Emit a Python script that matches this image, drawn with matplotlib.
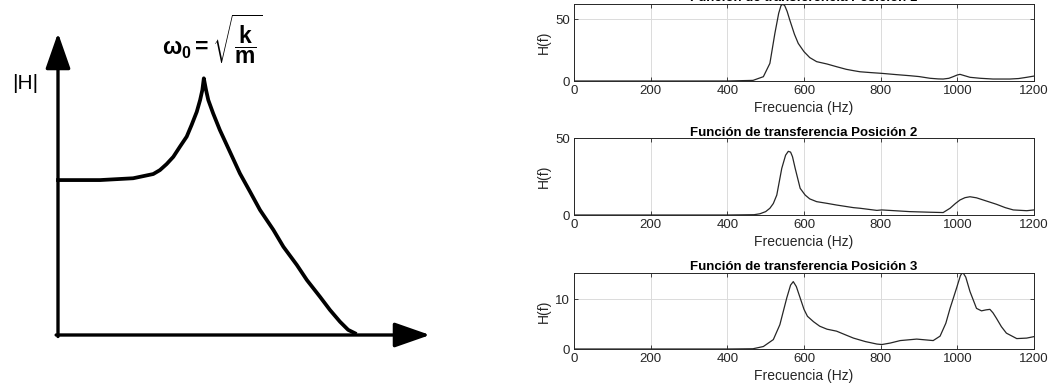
import numpy as np
import matplotlib
matplotlib.use('Agg')
import matplotlib.pyplot as plt

plt.rcParams['font.family'] = ['Liberation Sans', 'DejaVu Sans']
plt.rcParams['mathtext.fontset'] = 'custom'
plt.rcParams['mathtext.rm'] = 'Liberation Sans:bold'
plt.rcParams['mathtext.it'] = 'Liberation Sans:bold'
plt.rcParams['mathtext.bf'] = 'Liberation Sans:bold'

# ---- hand-drawn sketch (arbitrary units, 0-100 on both axes) ----
sketch_w = [0, 11.3, 20.2, 25.6, 27.4, 29.2, 31.0, 32.8, 34.6, 35.9,
            37.3, 38.2, 38.8, 39.2, 39.8, 40.4, 41.7, 43.5, 46.2, 48.9,
            51.6, 54.3, 57.9, 60.6, 64.2, 66.9, 70.4, 73.1, 75.8, 78.0, 79.8]
sketch_h = [51.3, 51.3, 51.9, 53.3, 54.6, 56.6, 59.0, 62.4, 65.7, 69.5,
            73.9, 77.8, 81.1, 85.0, 81.1, 77.8, 73.4, 67.9, 60.7, 53.5,
            47.5, 41.4, 34.8, 29.2, 23.2, 18.2, 12.7, 8.3, 4.4, 1.7, 0.6]

f1 = [0, 400, 467, 494, 511, 524, 534, 540, 545, 550, 556, 563, 575,
      585, 600, 615, 633, 660, 685, 710, 729, 746, 775, 803, 840, 876,
      900, 929, 950, 963, 978, 989, 1000, 1007, 1020, 1033, 1060, 1093,
      1137, 1160, 1181, 1200]
h1 = [0, 0, 0.5, 3.5, 14.3, 38.6, 55, 61.2, 62.4, 61, 56.5, 49.4, 38,
      30.5, 23.8, 19, 15.7, 13.8, 11.6, 9.5, 8.4, 7.5, 6.8, 6.2, 5.2,
      4.3, 3.6, 2.2, 1.7, 1.6, 2.2, 3.5, 4.9, 5.4, 4.2, 3.0, 2.2, 1.6,
      1.6, 2.0, 3.0, 4.0]

f2 = [0, 400, 470, 485, 500, 511, 520, 529, 542, 552, 559, 565, 570,
      577, 590, 603, 615, 633, 660, 685, 729, 746, 790, 803, 876, 930,
      963, 981, 995, 1007, 1020, 1033, 1050, 1076, 1102, 1125, 1146,
      1181, 1200]
h2 = [0, 0, 0.2, 0.8, 2.2, 4.4, 7.5, 13, 30.4, 39, 41.5, 41, 38,
      30.4, 17.4, 13, 10.5, 8.7, 7.6, 6.5, 4.8, 4.4, 3.0, 3.3, 2.2, 1.8,
      1.6, 4.4, 7.5, 9.8, 11.3, 11.9, 11.2, 9.1, 7.0, 4.8, 3.3, 2.8, 3.3]

f3 = [0, 400, 467, 494, 520, 537, 555, 565, 572, 580, 590, 600, 609,
      625, 641, 660, 685, 710, 729, 760, 790, 803, 825, 851, 894, 937,
      955, 970, 981, 998, 1008, 1014, 1022, 1033, 1050, 1063, 1075,
      1085, 1093, 1102, 1115, 1128, 1155, 1181, 1200]
h3 = [0, 0, 0.05, 0.5, 1.9, 4.9, 10.3, 12.9, 13.6, 12.6, 10.3, 8.0, 6.6,
      5.5, 4.6, 4.0, 3.6, 2.8, 2.2, 1.5, 1.0, 0.9, 1.2, 1.7, 2.0, 1.7,
      2.6, 5.2, 8.2, 12.3, 14.8, 15.5, 14.5, 11.6, 8.2, 7.7, 7.9,
      8.0, 7.3, 6.2, 4.5, 3.2, 2.1, 2.2, 2.5]

titles = ['Función de transferencia Posición 1',
          'Función de transferencia Posición 2',
          'Función de transferencia Posición 3']
ylims = [62.5, 50, 15.4]
yticks = [[0, 50], [0, 50], [0, 10]]
xticks = [0, 200, 400, 600, 800, 1000, 1200]

W, H = 1049, 385
fig = plt.figure(figsize=(W / 100, H / 100), dpi=100)

# left: sketch of |H| with a resonance peak
ax_s = fig.add_axes([58 / W, 1 - 335 / H, 372 / W, 302 / H])
ax_s.set_xlim(0, 100)
ax_s.set_ylim(0, 100)
ax_s.axis('off')
ax_s.plot(sketch_w, sketch_h, color='black', lw=2.7, clip_on=False)
arrow = dict(arrowstyle='-|>,head_length=1.0,head_width=0.35', lw=2.4,
             color='black', mutation_scale=22, shrinkA=0, shrinkB=0)
ax_s.annotate('', xy=(0, 100), xytext=(0, -0.5), arrowprops=arrow,
              annotation_clip=False)
ax_s.annotate('', xy=(100, 0), xytext=(-0.5, 0), arrowprops=arrow,
              annotation_clip=False)
ax_s.text(-8.9, 83.4, '|H|', fontsize=15, ha='center', va='center',
          clip_on=False)
ax_s.text(41.5, 98, r'$\omega_0 = \sqrt{\dfrac{k}{m}}$', fontsize=16.5,
          ha='center', va='center', clip_on=False)

# right: three measured transfer functions
freqs = [f1, f2, f3]
mags = [h1, h2, h3]
bottoms = [81, 215, 349]
tops = [4, 138.3, 272.7]
left, right = 574, 1034
grey = (0.15, 0.15, 0.15)
for i in range(3):
    ax = fig.add_axes([left / W, 1 - bottoms[i] / H, (right - left) / W,
                       (bottoms[i] - tops[i]) / H])
    ax.plot(freqs[i], mags[i], color=grey, lw=0.9)
    ax.set_xlim(0, 1200)
    ax.set_ylim(0, ylims[i])
    ax.set_xticks(xticks)
    ax.set_yticks(yticks[i])
    ax.grid(True, color=(0.86, 0.86, 0.86), lw=0.7)
    ax.set_axisbelow(True)
    ax.tick_params(direction='in', length=3, width=0.6, colors=grey,
                   labelsize=9.5, pad=3, top=True, right=True,
                   labeltop=False, labelright=False)
    for sp in ax.spines.values():
        sp.set_color(grey)
        sp.set_linewidth(0.7)
    ax.set_xlabel('Frecuencia (Hz)', fontsize=10, color=grey, labelpad=3)
    ax.set_ylabel('H(f)', fontsize=10, color=grey, labelpad=3)
    ax.set_title(titles[i], fontsize=9.5, fontweight='bold', pad=2)

fig.savefig('out.png', dpi=100)
